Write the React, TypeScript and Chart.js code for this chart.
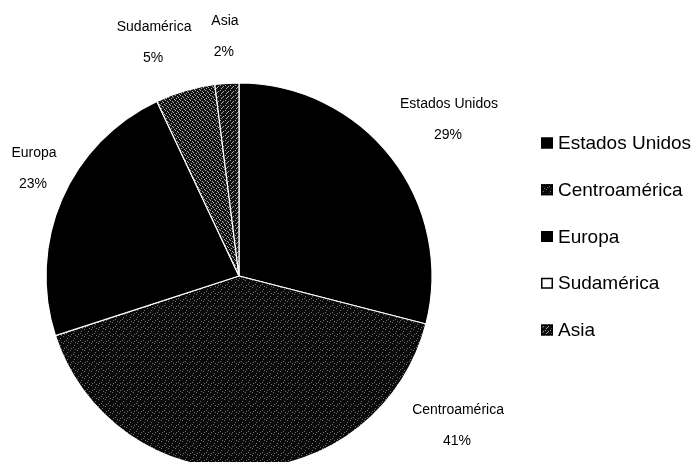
import React, { useEffect, useRef } from "react";
import { Chart, registerables } from "chart.js";

Chart.register(...registerables);

const categories = ["Estados Unidos", "Centroamérica", "Europa", "Sudamérica", "Asia"];
const shares = [29, 41, 23, 5, 2];

// label anchor offsets in units of the pie radius (layout only)
const labelOffsets: [number, number][] = [
  [1.088, -0.891],
  [1.135, 0.694],
  [-1.062, -0.637],
  [-0.44, -1.29],
  [-0.073, -1.321],
];

function makePattern(bg: string, dot: string, dots: [number, number][], size: number): CanvasPattern | string {
  const c = document.createElement("canvas");
  c.width = size;
  c.height = size;
  const g = c.getContext("2d");
  if (!g) return bg;
  g.fillStyle = bg;
  g.fillRect(0, 0, size, size);
  g.fillStyle = dot;
  dots.forEach(([x, y]) => g.fillRect(x, y, 1, 1));
  const p = g.createPattern(c, "repeat");
  return p || bg;
}

export default function App() {
  const ref = useRef<HTMLCanvasElement | null>(null);

  useEffect(() => {
    const canvas = ref.current;
    if (!canvas) return;

    const centroPat = makePattern("#0a0a0a", "#6e6e6e", [[0, 0], [4, 2], [1, 5], [5, 6], [3, 4]], 7);
    const sudPat = makePattern("#141414", "#b0b0b0", [[0, 0], [2, 1], [1, 3], [4, 4], [3, 2]], 5);
    const asiaPat = makePattern("#121212", "#a8a8a8", [[0, 0], [2, 2], [1, 3], [3, 1]], 5);
    const fills = ["#000000", centroPat, "#000000", sudPat, asiaPat];

    const legendFills = ["#000", centroPat, "#000", "#fff", asiaPat];

    const labelsPlugin = {
      id: "excelLabels",
      afterDraw(chart: any) {
        const ctx = chart.ctx as CanvasRenderingContext2D;
        const meta = chart.getDatasetMeta(0);
        const total = shares.reduce((a, b) => a + b, 0);
        ctx.save();
        ctx.fillStyle = "#000";
        ctx.textAlign = "center";
        ctx.textBaseline = "middle";
        ctx.font = "14px 'Liberation Sans', Arial, sans-serif";
        meta.data.forEach((arc: any, i: number) => {
          const { x, y, outerRadius } = arc.getProps(["x", "y", "outerRadius"], true);
          const [fx, fy] = labelOffsets[i];
          const lx = x + fx * outerRadius;
          const ly = y + fy * outerRadius;
          ctx.fillText(categories[i], lx, ly);
          ctx.fillText(Math.round((shares[i] / total) * 100) + "%", lx - 1, ly + 31);
        });

        // legend
        ctx.textAlign = "left";
        ctx.font = "19px 'Liberation Sans', Arial, sans-serif";
        const lx0 = 541;
        const ly0 = 143;
        const step = 46.75;
        categories.forEach((name, i) => {
          const cy = ly0 + i * step;
          ctx.fillStyle = legendFills[i] as any;
          ctx.fillRect(lx0, cy - 5.5, 12, 11);
          ctx.strokeStyle = "#000";
          ctx.lineWidth = 1.5;
          ctx.strokeRect(lx0 + 0.75, cy - 4.75, 10.5, 9.5);
          ctx.fillStyle = "#000";
          ctx.fillText(name, lx0 + 17, cy + 1);
        });
        ctx.restore();
      },
    };

    const chart = new Chart(canvas, {
      type: "pie",
      data: {
        labels: categories,
        datasets: [
          {
            data: shares,
            backgroundColor: fills as any,
            borderColor: "#ffffff",
            borderWidth: 1.2,
            hoverOffset: 0,
            clip: false as any,
          } as any,
        ],
      },
      options: {
        responsive: false,
        animation: false,
        radius: 193,
        rotation: 0,
        layout: { padding: { left: 0, right: 215, top: 90, bottom: 0 } },
        plugins: {
          legend: { display: false },
          tooltip: { enabled: false },
        },
        events: [],
      } as any,
      plugins: [labelsPlugin],
    });

    return () => chart.destroy();
  }, []);

  return (
    <div
      style={{
        position: "fixed",
        top: 0,
        left: 0,
        width: 693,
        height: 462,
        overflow: "hidden",
        background: "#fff",
      }}
    >
      <canvas ref={ref} width={693} height={462} style={{ width: 693, height: 462, display: "block" }} />
    </div>
  );
}
